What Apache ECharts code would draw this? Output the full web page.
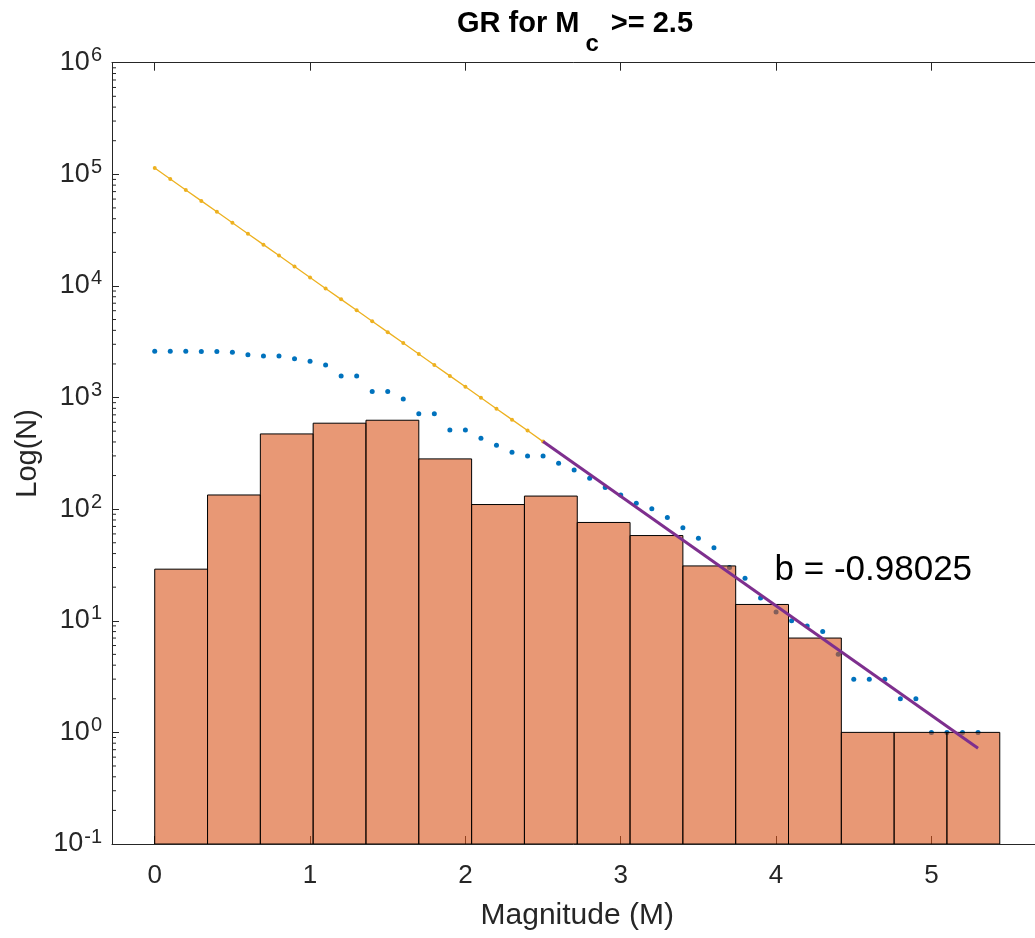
<!DOCTYPE html>
<html>
<head>
<meta charset="utf-8">
<script src="https://cdn.jsdelivr.net/npm/echarts@6/dist/echarts.min.js"></script>
<style>
html,body{margin:0;padding:0;background:#fff;}
#chart{width:1035px;height:938px;}
</style>
</head>
<body>
<div id="chart"></div>
<script>
// ---------- data ----------
const binEdges = [0, 0.34, 0.68, 1.02, 1.36, 1.70, 2.04, 2.38, 2.72, 3.06, 3.40, 3.74, 4.08, 4.42, 4.76, 5.10, 5.44];
const binCounts = [29, 134, 472, 589, 626, 282, 110, 131, 76, 58, 31, 14, 7, 1, 1, 1];

const cumMag = [0, 0.1, 0.2, 0.3, 0.4, 0.5, 0.6, 0.7, 0.8, 0.9, 1.0, 1.1, 1.2, 1.3, 1.4, 1.5, 1.6, 1.7, 1.8, 1.9,
                2.0, 2.1, 2.2, 2.3, 2.4, 2.5, 2.6, 2.7, 2.8, 2.9, 3.0, 3.1, 3.2, 3.3, 3.4, 3.5, 3.6, 3.7, 3.8, 3.9,
                4.0, 4.1, 4.2, 4.3, 4.4, 4.5, 4.6, 4.7, 4.8, 4.9, 5.0, 5.1, 5.2, 5.3];
const cumCount = [2600, 2600, 2600, 2590, 2590, 2550, 2420, 2360, 2360, 2230, 2115, 1960, 1560, 1560, 1130, 1130, 970, 717, 717, 513,
                  513, 432, 374, 324, 300, 300, 258, 224, 189, 156, 134, 113, 101, 84, 68, 55, 45, 30, 24, 16,
                  12, 10, 9, 8, 5, 3, 3, 3, 2, 2, 1, 1, 1, 1];

const fitLowMag = [0, 0.1, 0.2, 0.3, 0.4, 0.5, 0.6, 0.7, 0.8, 0.9, 1.0, 1.1, 1.2, 1.3, 1.4, 1.5, 1.6, 1.7, 1.8, 1.9,
                   2.0, 2.1, 2.2, 2.3, 2.4, 2.5];
const fitLowN = [113800, 90780, 72440, 57800, 46120, 36800, 29370, 23440, 18700, 14920, 11910, 9500, 7580, 6050, 4830,
                 3855, 3076, 2455, 1959, 1563, 1247, 995, 794, 634, 506, 403];

const fitHighMag = [2.5, 5.3];
const fitHighN = [403, 0.72];

const bText = 'b = -0.98025';
const bTextAnchor = [3.99, 28.5];

const xTicks = [0, 1, 2, 3, 4, 5];
const xRange = [-0.275, 5.715];
const yRange = [0.1, 1e6];
const yDecades = [0.1, 1, 10, 100, 1000, 10000, 100000];
const yMinorMultipliers = [2, 3, 4, 5, 6, 7, 8, 9];

const titleText = ['GR for M', 'c', ' >= 2.5'];
const xName = 'Magnitude (M)';
const yName = 'Log(N)';

// ---------- build ----------
const FONT = 'Liberation Sans, Arial, Helvetica, sans-serif';
const AX = '#262626';

const minorTickData = [];
yDecades.forEach(d => yMinorMultipliers.forEach(m => minorTickData.push([xRange[0], d * m])));

const barData = binCounts.map((c, i) => [binEdges[i], c, binEdges[i + 1]]);
const cumData = cumMag.map((m, i) => [m, cumCount[i]]);
const lowData = fitLowMag.map((m, i) => [m, fitLowN[i]]);
const highData = fitHighMag.map((m, i) => [m, fitHighN[i]]);

const chart = echarts.init(document.getElementById('chart'), null, {renderer: 'canvas'});

const option = {
  animation: false,
  backgroundColor: '#fff',
  title: {
    text: '{a|' + titleText[0] + '}{c|' + titleText[1] + '}{a|' + titleText[2] + '}',
    left: 575, top: 9, textAlign: 'center', padding: 0,
    textStyle: {
      rich: {
        a: {fontSize: 29, fontWeight: 'bold', fontFamily: FONT, color: '#000', lineHeight: 33, verticalAlign: 'top'},
        c: {fontSize: 24, fontWeight: 'bold', fontFamily: FONT, color: '#000', lineHeight: 24, verticalAlign: 'top', padding: [23, 4, 0, 6]}
      }
    }
  },
  grid: {left: 112, top: 62.7, width: 930.5, height: 781.3, containLabel: false, outerBoundsMode: 'none'},
  xAxis: [{
    type: 'value', min: xRange[0], max: xRange[1], position: 'bottom', gridIndex: 0,
    axisLine: {show: true, onZero: false, lineStyle: {color: AX, width: 1}},
    axisTick: {show: true, inside: true, length: 8, customValues: xTicks, lineStyle: {color: AX, width: 1}},
    axisLabel: {show: true, customValues: xTicks, fontSize: 26, fontFamily: FONT, color: AX, margin: 19},
    splitLine: {show: false},
    name: xName, nameLocation: 'middle', nameGap: 57,
    nameTextStyle: {fontSize: 30, fontFamily: FONT, color: AX}
  }, {
    type: 'value', min: xRange[0], max: xRange[1], position: 'top', gridIndex: 0,
    axisLine: {show: true, onZero: false, lineStyle: {color: AX, width: 1}},
    axisTick: {show: true, inside: true, length: 8, customValues: xTicks, lineStyle: {color: AX, width: 1}},
    axisLabel: {show: false},
    splitLine: {show: false}
  }],
  yAxis: [{
    type: 'log', logBase: 10, min: yRange[0], max: yRange[1], position: 'left', gridIndex: 0,
    axisLine: {show: true, onZero: false, lineStyle: {color: AX, width: 1}},
    axisTick: {show: true, inside: true, length: 7, lineStyle: {color: AX, width: 1}},
    axisLabel: {
      show: true, margin: 10,
      formatter: v => '{b|10}{s|' + Math.round(Math.log10(v)) + '}',
      rich: {
        b: {fontSize: 27, fontFamily: FONT, color: AX, lineHeight: 27, verticalAlign: 'middle'},
        s: {fontSize: 20, fontFamily: FONT, color: AX, lineHeight: 20, verticalAlign: 'middle', padding: [0, 0, 14, 1]}
      }
    },
    splitLine: {show: false},
    minorTick: {show: false},
    name: yName, nameLocation: 'middle', nameGap: 69,
    nameTextStyle: {fontSize: 29, fontFamily: FONT, color: AX}
  }],
  series: [
    {
      type: 'custom', name: 'minorTicks', z: 1, silent: true, clip: false,
      data: minorTickData,
      renderItem: (params, api) => {
        const p = api.coord([api.value(0), api.value(1)]);
        return {type: 'line', shape: {x1: p[0], y1: p[1], x2: p[0] + 4, y2: p[1]}, style: {stroke: AX, lineWidth: 1}};
      }
    },
    {
      type: 'scatter', name: 'cumulative', z: 2, silent: true,
      data: cumData, symbol: 'circle', symbolSize: 5,
      itemStyle: {color: '#0072BD', opacity: 1}
    },
    {
      type: 'custom', name: 'histogram', z: 3, silent: true, clip: true,
      data: barData,
      encode: {x: [0, 2], y: 1},
      renderItem: (params, api) => {
        const tl = api.coord([api.value(0), api.value(1)]);
        const br = api.coord([api.value(2), yRange[0]]);
        return {
          type: 'rect',
          shape: {x: tl[0], y: tl[1], width: br[0] - tl[0], height: br[1] - tl[1]},
          style: {fill: 'rgba(217,83,25,0.6)', stroke: '#000', lineWidth: 1}
        };
      }
    },
    {
      type: 'line', name: 'fitLow', z: 4, silent: true,
      data: lowData, symbol: 'circle', symbolSize: 4, showSymbol: true,
      lineStyle: {color: '#EDB120', width: 1.3},
      itemStyle: {color: '#EDB120', borderWidth: 0}
    },
    {
      type: 'line', name: 'fitHigh', z: 5, silent: true,
      data: highData, symbol: 'none',
      lineStyle: {color: '#7E2F8E', width: 3}
    },
    {
      type: 'custom', name: 'bText', z: 6, silent: true, clip: false,
      data: [bTextAnchor],
      renderItem: (params, api) => {
        const p = api.coord([api.value(0), api.value(1)]);
        return {
          type: 'text', x: p[0], y: p[1],
          style: {text: bText, fontSize: 35, fontFamily: FONT, fill: '#000', align: 'left', verticalAlign: 'middle'}
        };
      }
    }
  ]
};
chart.setOption(option);
</script>
</body>
</html>
